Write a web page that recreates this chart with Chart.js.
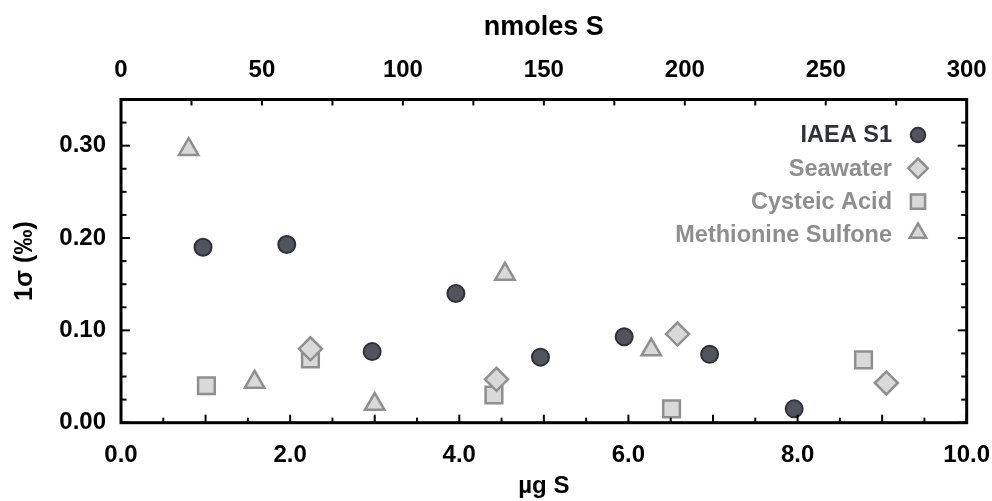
<!DOCTYPE html>
<html>
<head>
<meta charset="utf-8">
<script src="https://cdn.jsdelivr.net/npm/chart.js@4.4.1/dist/chart.umd.min.js"></script>
<style>
  body { margin: 0; background: #fff; }
</style>
</head>
<body>
<canvas id="sulfurChart" width="992" height="501"></canvas>
<script>
// ===== data =====
const iaeaX = [0.97, 1.96, 2.97, 3.96, 4.96, 5.95, 6.96, 7.96];
const iaeaY = [0.190, 0.193, 0.077, 0.140, 0.071, 0.093, 0.074, 0.015];

const seawaterX = [2.24, 4.44, 6.58, 9.05];
const seawaterY = [0.080, 0.047, 0.096, 0.043];

const cysteicX = [1.01, 2.24, 4.41, 6.51, 8.78];
const cysteicY = [0.040, 0.069, 0.030, 0.015, 0.068];

const methX = [0.80, 1.58, 3.00, 4.54, 6.27];
const methY = [0.296, 0.044, 0.020, 0.161, 0.079];

const seriesLabels = ['IAEA S1', 'Seawater', 'Cysteic Acid', 'Methionine Sulfone'];
const legendColors = ['#2f323a', '#8e8e8e', '#8e8e8e', '#8e8e8e'];

// axis ranges
const ugRange = [0, 10];
const nmolRange = [0, 300];
const sigmaRange = [0, 0.35];

const FONT = '"Liberation Sans", Arial, Helvetica, sans-serif';

function toPoints(xs, ys) {
    return xs.map((x, i) => ({ x: x, y: ys[i] }));
}

const darkFill = '#50545d';
const darkEdge = '#2e3139';
const greyFill = '#d9d9d9';
const greyEdge = '#8f8f8f';

// ===== ticks + frame =====
const frameTicks = {
    id: 'frameTicks',
    afterDraw(chart) {
        const { ctx, chartArea: a, scales } = chart;
        ctx.save();
        ctx.strokeStyle = '#000';
        ctx.lineWidth = 2;

        function line(x1, y1, x2, y2) {
            ctx.beginPath();
            ctx.moveTo(x1, y1);
            ctx.lineTo(x2, y2);
            ctx.stroke();
        }

        // bottom: every 0.5, longer at whole numbers
        for (let i = 0; i <= 20; i++) {
            const px = scales.x.getPixelForValue(i * 0.5);
            line(px, a.bottom, px, a.bottom - (i % 2 === 0 ? 8 : 5));
        }
        // top: every 25 nmol
        for (let i = 0; i <= 12; i++) {
            const px = scales.x2.getPixelForValue(i * 25);
            line(px, a.top, px, a.top + 6);
        }
        // left + right: every 0.025, longer at 0.1
        for (let i = 0; i <= 14; i++) {
            const py = scales.y.getPixelForValue(i * 0.025);
            const len = i % 4 === 0 ? 9 : 5.5;
            line(a.left, py, a.left + len, py);
            line(a.right, py, a.right - len, py);
        }

        ctx.lineWidth = 3;
        ctx.strokeRect(a.left, a.top, a.right - a.left, a.bottom - a.top);
        ctx.restore();
    }
};

// ===== legend (text right-aligned, marker on the right) =====
const sideLegend = {
    id: 'sideLegend',
    afterDraw(chart) {
        const ctx = chart.ctx;
        const textRight = 892;
        const markX = 918;
        ctx.save();
        ctx.font = 'bold 23.5px ' + FONT;
        ctx.textAlign = 'right';
        ctx.textBaseline = 'middle';
        chart.data.datasets.forEach((ds, i) => {
            const y = 135 + i * 33.3;
            ctx.fillStyle = legendColors[i];
            ctx.fillText(ds.label, textRight, y + 1);

            ctx.fillStyle = ds.backgroundColor;
            ctx.strokeStyle = ds.borderColor;
            ctx.lineWidth = ds.borderWidth;
            const my = ds.pointStyle === 'triangle' ? y - 2 : y;
            Chart.helpers.drawPoint(ctx, {
                pointStyle: ds.pointStyle,
                radius: ds.pointRadius * 0.85,
                borderWidth: ds.borderWidth,
                rotation: 0
            }, markX, my);
        });
        ctx.restore();
    }
};

const tickFont = { family: FONT, size: 24, weight: 'bold' };

new Chart(document.getElementById('sulfurChart'), {
    type: 'scatter',
    data: {
        datasets: [
            {
                label: seriesLabels[0],
                data: toPoints(iaeaX, iaeaY),
                pointStyle: 'circle',
                pointRadius: 8.5,
                backgroundColor: darkFill,
                borderColor: darkEdge,
                borderWidth: 2
            },
            {
                label: seriesLabels[1],
                data: toPoints(seawaterX, seawaterY),
                pointStyle: 'rectRot',
                pointRadius: 11.5,
                backgroundColor: greyFill,
                borderColor: greyEdge,
                borderWidth: 2.5
            },
            {
                label: seriesLabels[2],
                data: toPoints(cysteicX, cysteicY),
                pointStyle: 'rect',
                pointRadius: 11.8,
                backgroundColor: greyFill,
                borderColor: greyEdge,
                borderWidth: 2.5
            },
            {
                label: seriesLabels[3],
                data: toPoints(methX, methY),
                pointStyle: 'triangle',
                pointRadius: 11.2,
                backgroundColor: greyFill,
                borderColor: greyEdge,
                borderWidth: 2.5
            }
        ]
    },
    options: {
        responsive: false,
        animation: false,
        clip: false,
        layout: { padding: { top: 0, right: 25.3, bottom: 0, left: 0 } },
        plugins: {
            legend: { display: false },
            tooltip: { enabled: false }
        },
        scales: {
            x: {
                type: 'linear',
                position: 'bottom',
                min: ugRange[0],
                max: ugRange[1],
                grid: { display: false, drawTicks: false },
                border: { display: false },
                ticks: {
                    stepSize: 2,
                    padding: 18.5,
                    color: '#000',
                    font: tickFont,
                    maxRotation: 0,
                    callback: v => v.toFixed(1)
                },
                title: {
                    display: true,
                    text: 'µg S',
                    color: '#000',
                    font: { family: FONT, size: 24, weight: 'bold' },
                    padding: { top: 0, bottom: 0 }
                },
                afterFit(scale) {
                    scale.height = 78.3;
                    scale.paddingLeft = 0;
                    scale.paddingRight = 0;
                }
            },
            x2: {
                type: 'linear',
                position: 'top',
                display: true,
                min: nmolRange[0],
                max: nmolRange[1],
                grid: { display: false, drawTicks: false },
                border: { display: false },
                ticks: {
                    stepSize: 50,
                    padding: 15,
                    color: '#000',
                    font: tickFont,
                    maxRotation: 0,
                    callback: v => String(v)
                },
                title: {
                    display: true,
                    text: 'nmoles S',
                    color: '#000',
                    font: { family: FONT, size: 27, weight: 'bold' },
                    padding: { top: 11, bottom: 0 }
                },
                afterFit(scale) {
                    scale.height = 99.5;
                    scale.paddingLeft = 0;
                    scale.paddingRight = 0;
                }
            },
            y: {
                type: 'linear',
                position: 'left',
                min: sigmaRange[0],
                max: sigmaRange[1],
                grid: { display: false, drawTicks: false },
                border: { display: false },
                ticks: {
                    stepSize: 0.1,
                    includeBounds: false,
                    padding: 15,
                    color: '#000',
                    font: tickFont,
                    callback: v => v.toFixed(2)
                },
                title: {
                    display: true,
                    text: '1σ (‰)',
                    color: '#000',
                    font: { family: FONT, size: 25, weight: 'bold' },
                    padding: { top: 10, bottom: 0 }
                },
                afterFit(scale) {
                    scale.width = 121;
                    scale.paddingTop = 0;
                    scale.paddingBottom = 0;
                }
            }
        }
    },
    plugins: [frameTicks, sideLegend]
});
</script>
</body>
</html>
